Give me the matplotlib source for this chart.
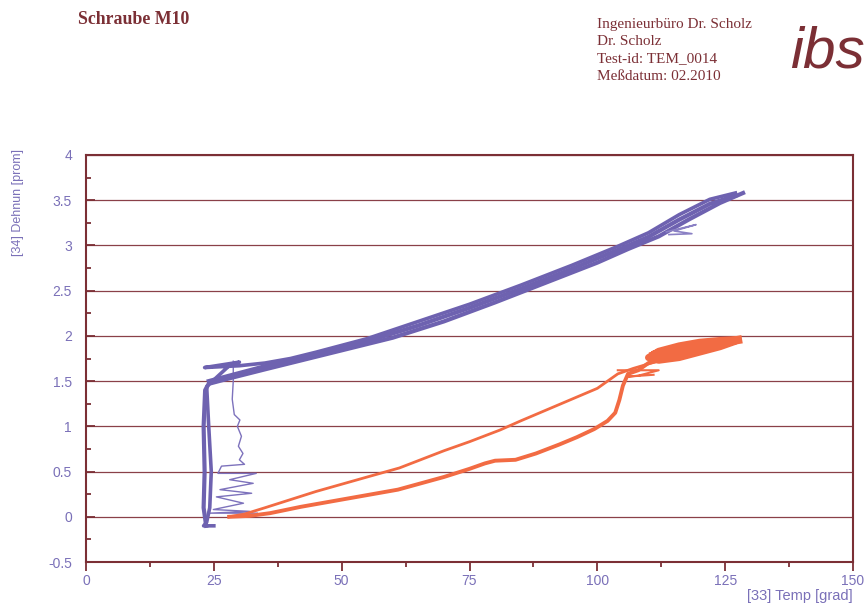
import matplotlib
matplotlib.use("Agg")
import matplotlib.pyplot as plt
from matplotlib.ticker import MultipleLocator, FixedLocator

# ---- data ----
# purple: [34] Dehnun vs [33] Temp, heating edge of band
pur_up_x = [23.5, 23.0, 23.2, 23.0, 23.3, 24.0, 28, 35, 45, 55, 60, 70, 80, 90, 100, 106, 112, 118, 124, 128.5]
pur_up_y = [-0.10, 0.10, 0.50, 1.00, 1.40, 1.47, 1.53, 1.63, 1.77, 1.91, 1.98, 2.16, 2.37, 2.59, 2.81, 2.96, 3.10, 3.29, 3.47, 3.58]
# purple: middle of band (repeated cycles)
pur_md_x = [24, 35, 45, 55, 65, 75, 85, 95, 104, 110, 116, 122, 127]
pur_md_y = [1.50, 1.665, 1.795, 1.94, 2.115, 2.31, 2.52, 2.74, 2.95, 3.095, 3.285, 3.46, 3.55]
# purple: return edge of band
pur_dn_x = [127, 122, 116, 110, 104, 95, 85, 75, 65, 55, 45, 40, 35, 30, 23.2, 30, 28, 23.6, 24.0, 24.5, 24.2, 23.6, 23.0, 25.0]
pur_dn_y = [3.58, 3.51, 3.34, 3.14, 2.99, 2.78, 2.56, 2.35, 2.16, 1.97, 1.82, 1.75, 1.70, 1.67, 1.65, 1.71, 1.67, 1.44, 1.00, 0.50, 0.10, -0.06, -0.10, -0.10]
# purple: stray excursions near the top
pur_st_x = [113.5, 119.3, 115.0, 118.5, 114.0]
pur_st_y = [3.15, 3.23, 3.16, 3.13, 3.12]
# purple: noisy thin trace at about 25..33 grad
noise_x = [28.8, 28.8, 28.6, 29.0, 30.1, 29.6, 30.4, 29.8, 30.7, 30.0, 31.0, 26.5, 25.8, 33.3, 28.1, 32.7,
           26.2, 32.4, 25.5, 30.8, 24.9, 32.0, 24.2, 33.5]
noise_y = [1.72, 1.50, 1.30, 1.13, 1.07, 1.00, 0.89, 0.78, 0.70, 0.63, 0.58, 0.56, 0.48, 0.48, 0.41, 0.37,
           0.30, 0.26, 0.22, 0.15, 0.08, 0.06, 0.04, 0.04]

# orange: heating branch
ora_up_x = [28, 32, 36, 42, 50, 61, 70, 75, 78, 80, 84, 88, 92.6, 96, 99.4, 102, 103.5, 104.3, 105, 106, 108,
            110, 113, 116, 120, 124, 127.5]
ora_up_y = [0.00, 0.01, 0.04, 0.11, 0.19, 0.30, 0.44, 0.53, 0.59, 0.62, 0.63, 0.70, 0.80, 0.88, 0.97, 1.06, 1.15,
            1.29, 1.45, 1.58, 1.62, 1.70, 1.74, 1.78, 1.84, 1.90, 1.95]
# orange: repeated cycles at the top
ora_cy_x = [127.5, 124, 120, 116, 112, 110, 112, 116, 120, 124, 127, 123, 119, 115, 111, 113, 117, 121, 125, 127]
ora_cy_y = [1.96, 1.95, 1.93, 1.89, 1.83, 1.76, 1.73, 1.76, 1.82, 1.88, 1.94, 1.93, 1.90, 1.86, 1.80, 1.75, 1.79, 1.85, 1.91, 1.95]
ora_md_x = [111, 114, 117, 120, 123, 126, 127.5]
ora_md_y = [1.78, 1.81, 1.85, 1.88, 1.91, 1.94, 1.955]
# orange: cooling branch
ora_dn_x = [120, 114, 110, 107, 104, 100, 95, 90, 85, 81, 75, 70, 61.3, 55, 45, 40, 35, 31, 28]
ora_dn_y = [1.84, 1.76, 1.69, 1.64, 1.58, 1.42, 1.30, 1.18, 1.06, 0.96, 0.83, 0.73, 0.54, 0.44, 0.28, 0.19, 0.10, 0.03, 0.00]
# orange: stray excursions
ora_st_x = [104, 112, 108, 106, 111]
ora_st_y = [1.62, 1.62, 1.56, 1.55, 1.57]

x_ticks = [0, 25, 50, 75, 100, 125, 150]
y_ticks = [-0.5, 0, 0.5, 1, 1.5, 2, 2.5, 3, 3.5, 4]
y_tick_labels = ["-0.5", "0", "0.5", "1", "1.5", "2", "2.5", "3", "3.5", "4"]

# ---- style ----
DARK = "#7B2F35"
LAB = "#7A70B8"
PURPLE = "#6E62B0"
ORANGE = "#F26B43"

fig = plt.figure(figsize=(8.67, 6.04), dpi=100)
ax = fig.add_axes([86 / 867, 42 / 604, 767 / 867, 407 / 604])

ax.set_xlim(0, 150)
ax.set_ylim(-0.5, 4)
ax.xaxis.set_major_locator(FixedLocator(x_ticks))
ax.xaxis.set_minor_locator(MultipleLocator(12.5))
ax.yaxis.set_major_locator(FixedLocator(y_ticks))
ax.set_yticklabels(y_tick_labels)
ax.yaxis.set_minor_locator(MultipleLocator(0.25))

for s in ax.spines.values():
    s.set_color(DARK)
    s.set_linewidth(1.5)

ax.tick_params(axis="x", which="major", direction="out", length=6.5, width=1.3, color=DARK,
               labelcolor=LAB, labelsize=10, pad=2)
ax.tick_params(axis="x", which="minor", direction="out", length=3.6, width=1.3, color=DARK)
ax.tick_params(axis="y", which="major", direction="in", length=6.5, width=1.3, color=DARK,
               labelcolor=LAB, labelsize=10, pad=10)
ax.tick_params(axis="y", which="minor", direction="in", length=3.6, width=1.3, color=DARK)
for lab in ax.get_xticklabels() + ax.get_yticklabels():
    lab.set_family("Liberation Sans")

ax.yaxis.grid(True, which="major", color="#8A4048", linewidth=0.9)
ax.set_axisbelow(True)

# curves
ax.plot(noise_x, noise_y, color="#7D72BC", lw=1.0, zorder=3)
ax.plot(pur_up_x, pur_up_y, color=PURPLE, lw=3.0, zorder=4, solid_joinstyle="round")
ax.plot(pur_md_x, pur_md_y, color=PURPLE, lw=3.0, zorder=4, solid_joinstyle="round")
ax.plot(pur_dn_x, pur_dn_y, color=PURPLE, lw=2.6, zorder=4, solid_joinstyle="round")
ax.plot(pur_st_x, pur_st_y, color="#8A80C4", lw=1.2, zorder=4)
ax.plot(ora_up_x, ora_up_y, color=ORANGE, lw=2.8, zorder=5, solid_joinstyle="round")
ax.plot(ora_cy_x, ora_cy_y, color=ORANGE, lw=5.0, zorder=5, solid_joinstyle="round")
ax.plot(ora_md_x, ora_md_y, color=ORANGE, lw=6.0, zorder=5, solid_joinstyle="round")
ax.plot(ora_dn_x, ora_dn_y, color=ORANGE, lw=2.0, zorder=5, solid_joinstyle="round")
ax.plot(ora_st_x, ora_st_y, color=ORANGE, lw=1.5, zorder=5)

# axis labels
fig.text(18 / 867, 1 - 202 / 604, "[34] Dehnun [prom]", rotation=90, ha="center", va="center",
         color=LAB, fontsize=9, family="Liberation Sans")
fig.text(853 / 867, 1 - 603 / 604, "[33] Temp [grad]", ha="right", va="bottom",
         color=LAB, fontsize=10.5, family="Liberation Sans")

# header
fig.text(78 / 867, 1 - 24 / 604, "Schraube M10", ha="left", va="baseline", color=DARK,
         fontsize=12.8, fontweight="bold", family="Liberation Serif")
info = ["Ingenieurbüro Dr. Scholz", "Dr. Scholz", "Test-id: TEM_0014", "Meßdatum: 02.2010"]
for i, t in enumerate(info):
    fig.text(597 / 867, 1 - (28 + i * 17.3) / 604, t, ha="left", va="baseline", color=DARK,
             fontsize=11, family="Liberation Serif")
fig.text(790 / 867, 1 - 68 / 604, "ibs", ha="left", va="baseline", color=DARK,
         fontsize=42, style="italic", family="Liberation Sans")

fig.savefig("out.png", dpi=100)
